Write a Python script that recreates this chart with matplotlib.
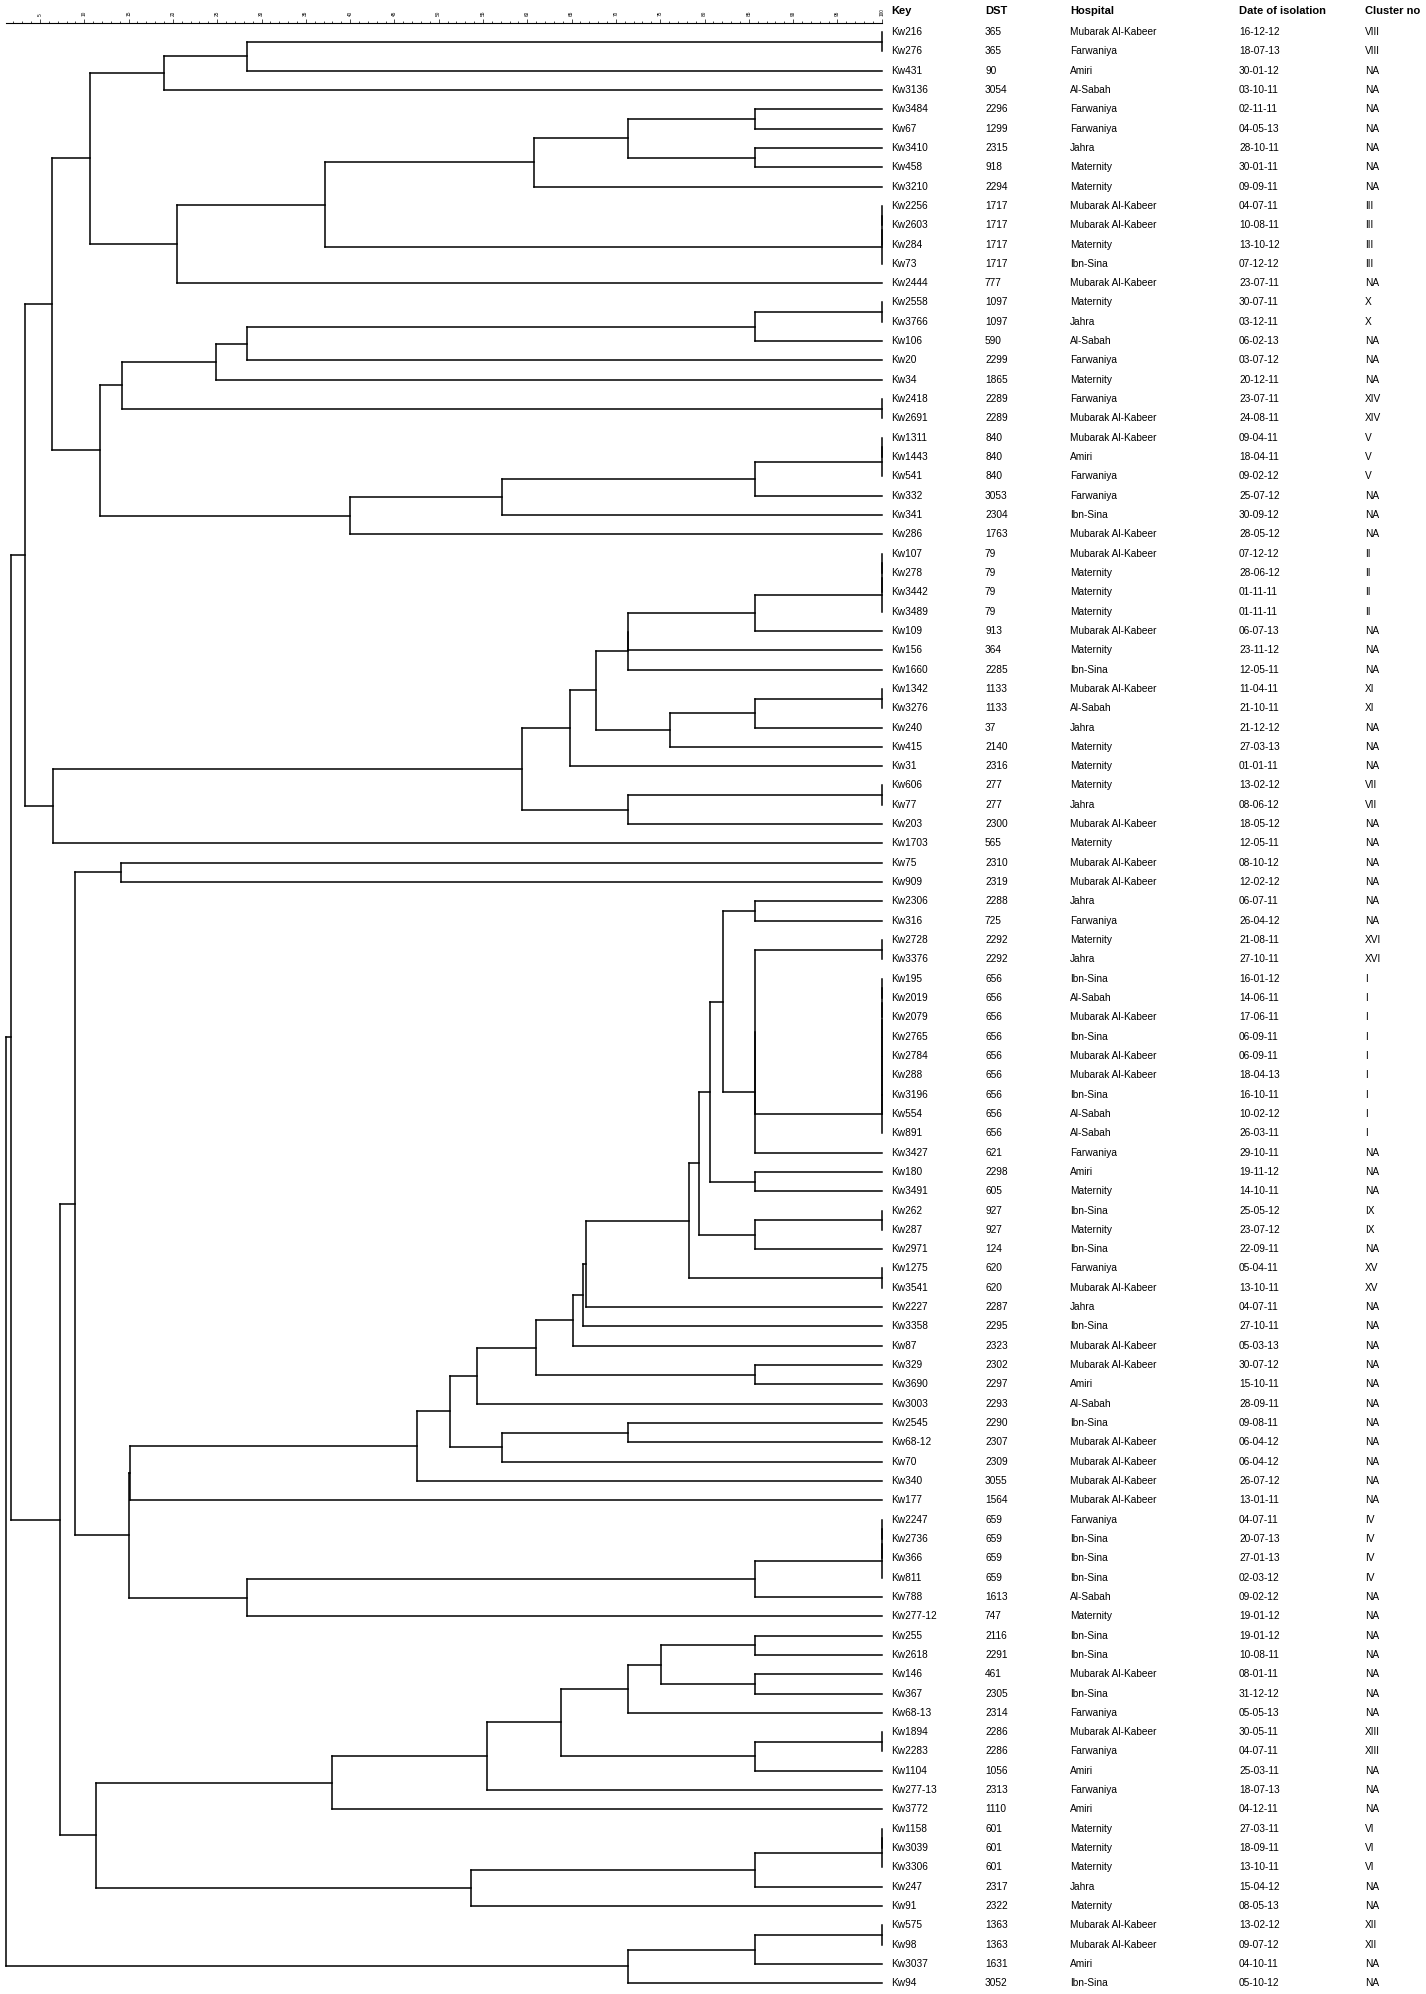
import matplotlib
matplotlib.use("Agg")
import matplotlib.pyplot as plt
import matplotlib.transforms as mtransforms
from matplotlib.collections import LineCollection
from matplotlib.ticker import MultipleLocator

plt.rcParams['font.family'] = ['Liberation Sans', 'DejaVu Sans']

# ---- table data (top to bottom) ----
keys = ["Kw216", "Kw276", "Kw431", "Kw3136", "Kw3484", "Kw67", "Kw3410", "Kw458", "Kw3210",
        "Kw2256", "Kw2603", "Kw284", "Kw73", "Kw2444", "Kw2558", "Kw3766", "Kw106", "Kw20",
        "Kw34", "Kw2418", "Kw2691", "Kw1311", "Kw1443", "Kw541", "Kw332", "Kw341", "Kw286",
        "Kw107", "Kw278", "Kw3442", "Kw3489", "Kw109", "Kw156", "Kw1660", "Kw1342", "Kw3276",
        "Kw240", "Kw415", "Kw31", "Kw606", "Kw77", "Kw203", "Kw1703", "Kw75", "Kw909",
        "Kw2306", "Kw316", "Kw2728", "Kw3376", "Kw195", "Kw2019", "Kw2079", "Kw2765", "Kw2784",
        "Kw288", "Kw3196", "Kw554", "Kw891", "Kw3427", "Kw180", "Kw3491", "Kw262", "Kw287",
        "Kw2971", "Kw1275", "Kw3541", "Kw2227", "Kw3358", "Kw87", "Kw329", "Kw3690", "Kw3003",
        "Kw2545", "Kw68-12", "Kw70", "Kw340", "Kw177", "Kw2247", "Kw2736", "Kw366", "Kw811",
        "Kw788", "Kw277-12", "Kw255", "Kw2618", "Kw146", "Kw367", "Kw68-13", "Kw1894", "Kw2283",
        "Kw1104", "Kw277-13", "Kw3772", "Kw1158", "Kw3039", "Kw3306", "Kw247", "Kw91", "Kw575",
        "Kw98", "Kw3037", "Kw94"]

dst = ["365", "365", "90", "3054", "2296", "1299", "2315", "918", "2294",
       "1717", "1717", "1717", "1717", "777", "1097", "1097", "590", "2299",
       "1865", "2289", "2289", "840", "840", "840", "3053", "2304", "1763",
       "79", "79", "79", "79", "913", "364", "2285", "1133", "1133",
       "37", "2140", "2316", "277", "277", "2300", "565", "2310", "2319",
       "2288", "725", "2292", "2292", "656", "656", "656", "656", "656",
       "656", "656", "656", "656", "621", "2298", "605", "927", "927",
       "124", "620", "620", "2287", "2295", "2323", "2302", "2297", "2293",
       "2290", "2307", "2309", "3055", "1564", "659", "659", "659", "659",
       "1613", "747", "2116", "2291", "461", "2305", "2314", "2286", "2286",
       "1056", "2313", "1110", "601", "601", "601", "2317", "2322", "1363",
       "1363", "1631", "3052"]

MK = "Mubarak Al-Kabeer"
hospitals = [MK, "Farwaniya", "Amiri", "Al-Sabah", "Farwaniya", "Farwaniya", "Jahra", "Maternity", "Maternity",
             MK, MK, "Maternity", "Ibn-Sina", MK, "Maternity", "Jahra", "Al-Sabah", "Farwaniya",
             "Maternity", "Farwaniya", MK, MK, "Amiri", "Farwaniya", "Farwaniya", "Ibn-Sina", MK,
             MK, "Maternity", "Maternity", "Maternity", MK, "Maternity", "Ibn-Sina", MK, "Al-Sabah",
             "Jahra", "Maternity", "Maternity", "Maternity", "Jahra", MK, "Maternity", MK, MK,
             "Jahra", "Farwaniya", "Maternity", "Jahra", "Ibn-Sina", "Al-Sabah", MK, "Ibn-Sina", MK,
             MK, "Ibn-Sina", "Al-Sabah", "Al-Sabah", "Farwaniya", "Amiri", "Maternity", "Ibn-Sina", "Maternity",
             "Ibn-Sina", "Farwaniya", MK, "Jahra", "Ibn-Sina", MK, MK, "Amiri", "Al-Sabah",
             "Ibn-Sina", MK, MK, MK, MK, "Farwaniya", "Ibn-Sina", "Ibn-Sina", "Ibn-Sina",
             "Al-Sabah", "Maternity", "Ibn-Sina", "Ibn-Sina", MK, "Ibn-Sina", "Farwaniya", MK, "Farwaniya",
             "Amiri", "Farwaniya", "Amiri", "Maternity", "Maternity", "Maternity", "Jahra", "Maternity", MK,
             MK, "Amiri", "Ibn-Sina"]

dates = ["16-12-12", "18-07-13", "30-01-12", "03-10-11", "02-11-11", "04-05-13", "28-10-11", "30-01-11", "09-09-11",
         "04-07-11", "10-08-11", "13-10-12", "07-12-12", "23-07-11", "30-07-11", "03-12-11", "06-02-13", "03-07-12",
         "20-12-11", "23-07-11", "24-08-11", "09-04-11", "18-04-11", "09-02-12", "25-07-12", "30-09-12", "28-05-12",
         "07-12-12", "28-06-12", "01-11-11", "01-11-11", "06-07-13", "23-11-12", "12-05-11", "11-04-11", "21-10-11",
         "21-12-12", "27-03-13", "01-01-11", "13-02-12", "08-06-12", "18-05-12", "12-05-11", "08-10-12", "12-02-12",
         "06-07-11", "26-04-12", "21-08-11", "27-10-11", "16-01-12", "14-06-11", "17-06-11", "06-09-11", "06-09-11",
         "18-04-13", "16-10-11", "10-02-12", "26-03-11", "29-10-11", "19-11-12", "14-10-11", "25-05-12", "23-07-12",
         "22-09-11", "05-04-11", "13-10-11", "04-07-11", "27-10-11", "05-03-13", "30-07-12", "15-10-11", "28-09-11",
         "09-08-11", "06-04-12", "06-04-12", "26-07-12", "13-01-11", "04-07-11", "20-07-13", "27-01-13", "02-03-12",
         "09-02-12", "19-01-12", "19-01-12", "10-08-11", "08-01-11", "31-12-12", "05-05-13", "30-05-11", "04-07-11",
         "25-03-11", "18-07-13", "04-12-11", "27-03-11", "18-09-11", "13-10-11", "15-04-12", "08-05-13", "13-02-12",
         "09-07-12", "04-10-11", "05-10-12"]

clusters = ["VIII", "VIII", "NA", "NA", "NA", "NA", "NA", "NA", "NA",
            "III", "III", "III", "III", "NA", "X", "X", "NA", "NA",
            "NA", "XIV", "XIV", "V", "V", "V", "NA", "NA", "NA",
            "II", "II", "II", "II", "NA", "NA", "NA", "XI", "XI",
            "NA", "NA", "NA", "VII", "VII", "NA", "NA", "NA", "NA",
            "NA", "NA", "XVI", "XVI", "I", "I", "I", "I", "I",
            "I", "I", "I", "I", "NA", "NA", "NA", "IX", "IX",
            "NA", "XV", "XV", "NA", "NA", "NA", "NA", "NA", "NA",
            "NA", "NA", "NA", "NA", "NA", "IV", "IV", "IV", "IV",
            "NA", "NA", "NA", "NA", "NA", "NA", "NA", "XIII", "XIII",
            "NA", "NA", "NA", "VI", "VI", "VI", "NA", "NA", "XII",
            "XII", "NA", "NA"]

headers = ["Key", "DST", "Hospital", "Date of isolation", "Cluster no"]


# ---- dendrogram (similarity %) ----
def nd(h, *kids):
    # several kids at one level -> left-nested binary nodes
    node = kids[0]
    for k in kids[1:]:
        node = (h, node, k)
    return node


top_p = nd(19.0, nd(28.4, nd(100, "Kw216", "Kw276"), "Kw431"), "Kw3136")
top_q = nd(20.5, nd(37.2, nd(60.8, nd(71.4, nd(85.7, "Kw3484", "Kw67"), nd(85.7, "Kw3410", "Kw458")), "Kw3210"),
                    nd(100, "Kw2256", "Kw2603", "Kw284", "Kw73")), "Kw2444")
top_s = nd(14.2, nd(24.9, nd(28.4, nd(85.7, nd(100, "Kw2558", "Kw3766"), "Kw106"), "Kw20"), "Kw34"),
           nd(100, "Kw2418", "Kw2691"))
top_t = nd(40.0, nd(57.1, nd(85.7, nd(100, "Kw1311", "Kw1443", "Kw541"), "Kw332"), "Kw341"), "Kw286")
top = nd(6.4, nd(10.6, top_p, top_q), nd(11.8, top_s, top_t))

mid_c = nd(71.4, nd(85.7, nd(100, "Kw107", "Kw278", "Kw3442", "Kw3489"), "Kw109"), "Kw156", "Kw1660")
mid_e = nd(76.1, nd(85.7, nd(100, "Kw1342", "Kw3276"), "Kw240"), "Kw415")
mid = nd(6.5, nd(59.4, nd(64.8, nd(67.8, mid_c, mid_e), "Kw31"), nd(71.4, nd(100, "Kw606", "Kw77"), "Kw203")),
         "Kw1703")

grp_i = nd(100, "Kw195", "Kw2019", "Kw2079", "Kw2765", "Kw2784", "Kw288", "Kw3196", "Kw554", "Kw891")
low_n1 = nd(85.7, nd(100, "Kw2728", "Kw3376"), grp_i, "Kw3427")
low_n5 = nd(78.2, nd(79.4, nd(80.6, nd(82.1, nd(85.7, "Kw2306", "Kw316"), low_n1), nd(85.7, "Kw180", "Kw3491")),
                     nd(85.7, nd(100, "Kw262", "Kw287"), "Kw2971")), nd(100, "Kw1275", "Kw3541"))
low_n8 = nd(65.2, nd(66.25, nd(66.6, low_n5, "Kw2227"), "Kw3358"), "Kw87")
low_n12 = nd(47.6, nd(51.3, nd(54.3, nd(61.0, low_n8, nd(85.7, "Kw329", "Kw3690")), "Kw3003"),
                      nd(57.1, nd(71.4, "Kw2545", "Kw68-12"), "Kw70")), "Kw340")
low_iv = nd(28.4, nd(85.7, nd(100, "Kw2247", "Kw2736", "Kw366", "Kw811"), "Kw788"), "Kw277-12")
low_a = nd(8.9, nd(14.1, "Kw75", "Kw909"), nd(15.0, nd(15.2, low_n12, "Kw177"), low_iv))

low_z1 = nd(38.0, nd(55.4, nd(63.8, nd(71.4, nd(75.1, nd(85.7, "Kw255", "Kw2618"), nd(85.7, "Kw146", "Kw367")),
                                        "Kw68-13"), nd(85.7, nd(100, "Kw1894", "Kw2283"), "Kw1104")),
                        "Kw277-13"), "Kw3772")
low_z2 = nd(53.6, nd(85.7, nd(100, "Kw1158", "Kw3039", "Kw3306"), "Kw247"), "Kw91")
low = nd(7.3, low_a, nd(11.3, low_z1, low_z2))

tail = nd(71.4, nd(85.7, nd(100, "Kw575", "Kw98"), "Kw3037"), "Kw94")
root = nd(1.2, nd(1.7, nd(3.3, top, mid), low), tail)

# ---- figure ----
W, H = 1426, 1994
x100, px_unit = 881.7, 8.86     # pixel of 100 % and pixels per %
row0, row_h = 32.0, 19.32


def v_at(px):
    return 100 - (x100 - px) / px_unit


fig = plt.figure(figsize=(W / 100, H / 100), dpi=100)
ax = fig.add_axes([0, 0, 1, 1])
ax.set_xlim(v_at(0), v_at(W))
ax.set_ylim((H - row0) / row_h, -row0 / row_h)
ax.axis("off")

row_of = {k: i for i, k in enumerate(keys)}
segs = []


def draw(node, parent):
    if isinstance(node, str):
        y = row_of[node]
        segs.append([(parent, y), (100, y)])
        return y
    h, a, b = node
    ya = draw(a, h)
    yb = draw(b, h)
    segs.append([(h, ya), (h, yb)])
    y = (ya + yb) / 2
    if parent is not None:
        segs.append([(parent, y), (h, y)])
    return y


draw(root, None)
ax.add_collection(LineCollection(segs, colors="black", linewidths=1.1, capstyle="projecting"))

# table columns
trans = mtransforms.blended_transform_factory(fig.transFigure, ax.transData)
col_x = [891, 985, 1070, 1239, 1365]
columns = [keys, dst, hospitals, dates, clusters]
for cx, head, vals in zip(col_x, headers, columns):
    ax.text(cx / W, -1.1, head, transform=trans, fontsize=8.0, fontweight="bold", va="center", ha="left")
    for i, s in enumerate(vals):
        ax.text(cx / W, i, s, transform=trans, fontsize=7.3, va="center", ha="left")

# similarity scale on top
px0, y_axis, hgt = 5.7, 22.7, 0.002
ax_s = fig.add_axes([px0 / W, 1 - y_axis / H - hgt, (x100 - px0) / W, hgt])
ax_s.patch.set_alpha(0)
ax_s.set_xlim(v_at(px0), 100)
for side in ["bottom", "left", "right"]:
    ax_s.spines[side].set_visible(False)
ax_s.spines["top"].set_linewidth(0.8)
ax_s.set_yticks([])
ax_s.xaxis.tick_top()
ax_s.set_xticks(range(5, 101, 5))
ax_s.xaxis.set_minor_locator(MultipleLocator(1))
ax_s.tick_params(axis="x", which="major", direction="out", length=2.7, width=0.5,
                 labelsize=3.4, pad=2.2, labelrotation=90)
ax_s.tick_params(axis="x", which="minor", direction="out", length=1.4, width=0.5)

fig.savefig("out.png", dpi=100)
